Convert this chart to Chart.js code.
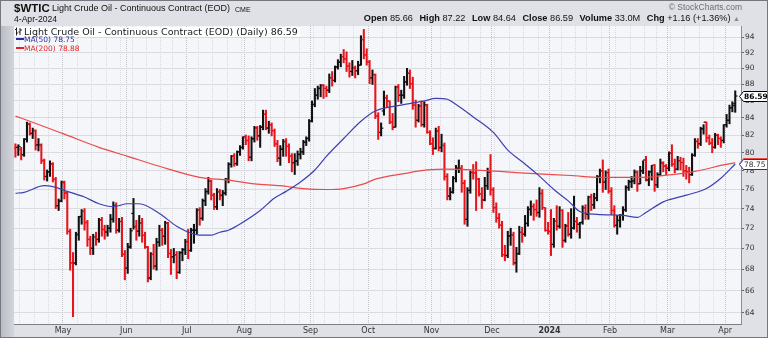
<!DOCTYPE html>
<html>
<head>
<meta charset="utf-8">
<title>$WTIC</title>
<script src="https://cdn.jsdelivr.net/npm/chart.js@4.4.1/dist/chart.umd.min.js"></script>
<style>
  html, body { margin: 0; padding: 0; }
  body {
    width: 768px; height: 338px; position: relative; overflow: hidden;
    background: #dfe1e6;
    font-family: "Liberation Sans", Arial, sans-serif;
    color: #111;
  }
  #leftStrip { position: absolute; left: 1px; top: 26px; width: 13px; bottom: 1px; background: linear-gradient(to right, #b9bcc4, #d3d6dc); }
  #frame { position: absolute; left: 0; top: 0; width: 768px; height: 338px; border: 1px solid #74777f; box-sizing: border-box; pointer-events: none; z-index: 5; }
  #chart { position: absolute; left: 0; top: 0; }
  .txt { position: absolute; white-space: nowrap; line-height: 1; }
  #sym { left: 14px; top: 3px; font-size: 11.5px; font-weight: bold; }
  #name { left: 52px; top: 4px; font-size: 9px; }
  #exch { left: 235px; top: 5.5px; font-size: 7px; }
  #date { left: 14px; top: 15px; font-size: 8.6px; }
  #copy { right: 26px; top: 3px; font-size: 8.5px; color: #6b6e75; }
  #quote { right: 28px; top: 14px; font-size: 9.2px; }
  #quote b { margin-left: 4px; }
  #quote .up { color: #888; font-size: 7px; }
  .lg { position: absolute; white-space: nowrap; line-height: 1; font-family: "DejaVu Sans", sans-serif; }
  #lgMain { left: 15px; top: 27px; font-size: 9.5px; background: rgba(255,255,255,0.85); padding-right: 2px; color: #222; }
  #lgMain svg { vertical-align: -1px; margin-right: 2px; }
  #lg50 { left: 16px; top: 36px; font-size: 7.5px; color: #2b2f9c; }
  #lg200 { left: 16px; top: 45px; font-size: 7.5px; color: #e02424; }
  .dash { display: inline-block; width: 8px; height: 2px; vertical-align: 2px; }
</style>
</head>
<body>
<div id="leftStrip"></div>
<canvas id="chart" width="768" height="338"></canvas>

<div class="txt" id="sym">$WTIC</div>
<div class="txt" id="name">Light Crude Oil - Continuous Contract (EOD)</div>
<div class="txt" id="exch">CME</div>
<div class="txt" id="date">4-Apr-2024</div>
<div class="txt" id="copy">© StockCharts.com</div>
<div class="txt" id="quote"></div>

<div class="lg" id="lgMain"><svg width="7" height="9" viewBox="0 0 7 9"><path d="M1.5 0.5V8.5M0 2.5H1.5M1.5 6H3M5 1V8M3.5 5H5M5 3H7" stroke="#222" stroke-width="1" fill="none"/></svg>Light Crude Oil - Continuous Contract (EOD) (Daily) <span id="lgLast"></span></div>
<div class="lg" id="lg50"><span class="dash" style="background:#2b2f9c"></span>MA(50) <span id="lg50v"></span></div>
<div class="lg" id="lg200"><span class="dash" style="background:#e02424"></span>MA(200) <span id="lg200v"></span></div>
<div id="frame"></div>

<script>
// daily bars, 5-Apr-2023 .. 4-Apr-2024 (index = trading day)
const opens = [
  80.5, 80.6, 80.4, 79.8, 81.5, 83.3, 82.2, 82.5, 80.9, 80.8, 79.1, 77.4, 77.9, 78.7, 77.1, 74.3, 74.8,
  76.7, 75.6, 71.7, 68.6, 68.6, 71.4, 73.2, 73.7, 72.6, 70.9, 70.0, 71.1, 70.9, 72.8, 71.9, 71.6, 72.0, 72.9, 74.3, 71.8, 72.7, 69.4,
  68.1, 70.2, 73.5, 72.2, 71.7, 72.5, 71.3, 70.1, 67.2, 69.4, 68.3, 70.6, 71.8, 71.2, 72.5, 69.5, 69.2, 69.4, 67.7, 69.6, 69.9,
  70.6, 69.8, 71.8, 71.8, 73.9, 73.0, 74.8, 75.8, 76.9, 75.4, 74.2, 75.8, 75.4, 75.6, 77.1, 78.7, 79.6, 78.8, 80.1, 80.6,
  81.8, 81.4, 79.5, 81.6, 82.8, 81.9, 82.9, 84.4, 82.8, 83.2, 82.5, 81.0, 79.4, 80.4, 81.3, 80.7, 79.6, 78.9, 79.1, 79.8, 80.1, 81.2, 81.6,
  83.6, 85.6, 86.7, 87.5, 87.9, 87.5, 87.3, 88.8, 88.5, 90.2, 90.8, 91.5, 91.2, 90.3, 89.6, 90.0, 89.7, 90.4, 93.7, 91.7,
  90.8, 88.8, 89.2, 84.2, 82.3, 84.8, 86.4, 86.0, 83.5, 82.9, 87.7, 86.7, 86.7, 88.3, 89.4, 88.1, 85.5, 83.7, 85.4, 83.2, 85.5, 82.3,
  81.0, 80.5, 82.5, 80.6, 80.8, 77.4, 75.3, 75.7, 77.2, 78.3, 78.3, 76.7, 72.9, 75.9, 77.8, 77.8, 77.1, 75.5, 74.9, 76.4, 77.9,
  76.0, 74.1, 73.0, 72.3, 69.4, 69.3, 71.2, 71.3, 68.6, 69.5, 71.6, 71.4, 72.5, 73.9, 74.2, 73.9, 73.6, 75.6, 74.1, 71.8,
  71.7, 70.4, 72.7, 72.2, 73.8, 70.8, 72.2, 71.4, 72.0, 72.7, 72.4, 72.6, 74.1, 73.4, 75.2, 74.4, 75.1, 77.4, 78.0, 76.8, 77.8,
  75.8, 73.8, 72.3, 72.8, 73.3, 73.9, 76.2, 76.8, 76.9, 77.9, 76.6, 78.0, 79.2, 77.0, 77.9, 78.6, 76.5, 77.6, 78.9, 78.5,
  78.3, 80.0, 78.7, 78.2, 79.1, 78.9, 78.0, 77.9, 77.6, 79.7, 81.3, 81.0, 82.7, 83.5, 81.7, 81.1, 80.6, 82.0, 81.6, 81.4,
  83.2, 83.7, 85.2, 85.66
];
const highs = [
  81.0, 80.9, 80.6, 81.6, 83.5, 83.4, 82.8, 82.6, 81.6, 81.0, 79.3, 78.1, 79.1, 78.9, 77.3, 75.0, 76.9,
  76.9, 75.8, 71.9, 69.6, 71.6, 73.2, 73.9, 74.0, 72.8, 71.2, 71.4, 71.6, 73.0, 73.1, 72.3, 72.3, 73.4, 74.7, 74.6, 73.0, 73.1, 69.8,
  70.5, 72.0, 75.06, 72.8, 73.3, 73.0, 71.6, 70.2, 69.6, 70.4, 71.0, 72.3, 72.0, 72.7, 72.6, 69.9, 70.0, 69.7, 69.7, 70.0, 70.9,
  71.9, 72.0, 72.4, 74.0, 74.1, 75.0, 76.1, 77.3, 77.0, 75.6, 76.1, 76.0, 75.9, 77.2, 78.9, 79.7, 79.9, 80.2, 80.8, 81.8,
  82.0, 81.9, 81.8, 83.0, 83.0, 83.1, 84.9, 84.9, 83.6, 83.4, 82.7, 81.4, 80.8, 81.5, 81.6, 81.0, 79.9, 79.9, 80.2, 80.5, 81.4, 81.8, 83.8,
  86.0, 87.5, 87.8, 88.0, 88.0, 87.8, 89.3, 89.6, 90.3, 91.1, 91.8, 92.4, 92.1, 90.7, 91.0, 90.3, 90.9, 94.2, 95.03, 92.5,
  91.0, 89.8, 89.3, 84.6, 83.4, 87.2, 86.7, 86.0, 84.5, 87.8, 88.0, 87.3, 89.0, 90.0, 89.8, 88.9, 86.1, 85.6, 86.0, 85.9, 85.6, 82.5,
  81.7, 82.8, 83.0, 82.1, 81.1, 77.7, 76.2, 77.4, 78.6, 79.2, 78.6, 77.0, 76.2, 78.0, 78.7, 79.0, 77.2, 76.2, 77.3, 78.3, 79.8,
  76.2, 74.6, 73.5, 72.7, 70.3, 71.7, 72.0, 71.6, 70.1, 72.2, 72.1, 73.3, 74.2, 74.8, 74.5, 74.9, 76.2, 76.0, 74.1, 72.6,
  73.9, 73.0, 74.3, 74.2, 73.9, 72.4, 73.6, 74.0, 75.3, 73.1, 72.6, 74.3, 74.4, 75.3, 75.5, 75.6, 77.5, 78.2, 79.2, 78.0, 78.2,
  76.2, 74.3, 73.3, 73.4, 74.2, 76.4, 77.0, 77.4, 78.1, 78.0, 78.5, 79.1, 79.6, 78.0, 78.6, 78.7, 77.8, 79.3, 79.0, 78.7,
  80.1, 80.9, 79.3, 79.6, 79.5, 79.4, 78.6, 78.4, 79.9, 81.6, 81.6, 82.9, 83.2, 83.5, 82.0, 81.6, 82.2, 82.1, 81.8, 83.2,
  84.4, 85.5, 85.9, 87.22
];
const lows = [
  79.5, 79.7, 79.2, 79.6, 81.2, 82.0, 81.6, 80.3, 80.2, 78.8, 77.0, 76.9, 77.4, 76.8, 74.0, 73.8, 74.7,
  75.0, 71.4, 67.9, 63.64, 68.4, 70.8, 72.4, 71.8, 70.2, 69.4, 69.4, 70.3, 70.6, 71.2, 70.9, 71.2, 71.6, 72.6, 71.5, 71.6, 69.2, 67.0,
  67.6, 70.0, 71.9, 70.8, 71.2, 70.6, 70.0, 66.8, 67.0, 68.0, 67.9, 70.2, 70.3, 70.4, 69.1, 67.5, 68.6, 67.1, 67.6, 68.8, 69.4,
  69.0, 69.7, 70.5, 71.4, 72.3, 72.8, 74.3, 75.5, 74.9, 73.9, 73.9, 74.9, 74.3, 75.4, 76.7, 78.4, 78.5, 78.6, 79.7, 80.4,
  80.9, 79.1, 79.1, 81.2, 81.4, 80.6, 82.6, 82.6, 82.2, 81.9, 80.7, 79.0, 78.6, 79.6, 79.6, 78.9, 77.9, 77.6, 78.6, 79.3, 79.8, 80.8, 81.3,
  83.5, 85.3, 86.2, 86.5, 86.3, 86.5, 87.0, 87.8, 88.3, 89.9, 90.2, 90.7, 89.6, 88.9, 89.1, 88.8, 89.2, 90.4, 91.2, 90.4,
  88.1, 88.0, 83.9, 81.5, 81.9, 84.3, 85.2, 83.3, 82.6, 82.9, 85.9, 85.7, 86.3, 87.9, 87.5, 85.0, 82.9, 83.5, 83.0, 82.9, 82.2, 80.9,
  79.8, 80.4, 80.2, 80.1, 77.0, 74.9, 74.9, 75.6, 76.8, 77.8, 75.7, 72.4, 72.2, 75.6, 77.1, 73.8, 75.3, 74.0, 74.8, 76.0, 75.4,
  73.6, 72.6, 72.0, 69.2, 68.8, 69.1, 70.3, 68.4, 67.71, 69.4, 70.6, 71.2, 72.2, 73.3, 72.8, 73.2, 73.1, 73.9, 71.7, 71.4,
  69.3, 70.1, 71.8, 72.0, 70.1, 70.6, 71.2, 71.0, 71.9, 71.6, 71.0, 72.4, 72.9, 72.9, 73.8, 74.0, 74.8, 76.7, 75.7, 76.0, 75.6,
  73.4, 72.1, 71.4, 72.1, 72.8, 73.7, 75.9, 76.2, 76.6, 75.8, 76.6, 77.7, 76.9, 76.4, 77.0, 75.8, 76.2, 77.5, 77.9, 77.6,
  78.0, 78.5, 77.8, 78.1, 78.1, 77.4, 77.1, 76.7, 77.5, 79.6, 80.5, 80.8, 82.1, 81.2, 80.9, 80.0, 80.5, 80.9, 80.6, 81.1,
  82.9, 83.3, 84.7, 84.64
];
const closes = [
  80.61, 80.70, 79.74, 81.53, 83.26, 82.16, 82.52, 80.83, 80.86, 79.16, 77.37, 77.87, 78.76, 77.07, 74.30, 74.76, 76.78,
  75.66, 71.66, 68.60, 68.56, 71.34, 73.16, 73.71, 72.56, 70.87, 70.04, 71.11, 70.86, 72.83, 71.86, 71.69, 71.99, 72.91, 74.34, 71.83, 72.67, 69.46, 68.09,
  70.10, 71.74, 72.15, 71.74, 72.53, 71.29, 70.17, 67.12, 69.42, 68.27, 70.62, 71.78, 71.19, 72.53, 69.51, 69.16, 69.37, 67.70, 69.56, 69.86, 70.64,
  69.79, 71.79, 71.80, 73.86, 72.99, 74.83, 75.75, 76.89, 75.42, 74.15, 75.75, 75.35, 75.63, 77.07, 78.74, 79.63, 78.78, 80.09, 80.58, 81.80,
  81.37, 79.49, 81.55, 82.82, 81.94, 82.92, 84.40, 82.82, 83.19, 82.51, 80.99, 79.38, 80.39, 81.25, 80.72, 79.64, 78.89, 79.05, 79.83, 80.10, 81.16, 81.63, 83.63,
  85.55, 86.69, 87.54, 87.87, 87.51, 87.29, 88.84, 88.52, 90.16, 90.77, 91.48, 91.20, 90.28, 89.63, 90.03, 89.68, 90.39, 93.68, 91.71, 90.79,
  88.82, 89.23, 84.22, 82.31, 82.79, 86.38, 85.97, 83.49, 82.91, 87.69, 86.66, 86.66, 88.32, 89.37, 88.08, 85.49, 83.74, 85.39, 83.21, 85.54, 82.31, 81.02,
  80.44, 82.46, 80.51, 80.82, 77.37, 75.33, 75.74, 77.17, 78.26, 78.26, 76.66, 72.90, 75.89, 77.83, 77.77, 77.10, 75.54, 74.86, 76.41, 77.86, 75.96,
  74.07, 73.04, 72.32, 69.38, 69.34, 71.23, 71.32, 68.61, 69.47, 71.58, 71.43, 72.47, 73.94, 74.22, 73.89, 73.56, 75.57, 74.11, 71.77, 71.65,
  70.38, 72.70, 72.19, 73.81, 70.77, 72.24, 71.37, 72.02, 72.68, 72.40, 72.56, 74.08, 73.41, 75.19, 74.37, 75.09, 77.36, 78.01, 76.78, 77.82, 75.85,
  73.82, 72.28, 72.78, 73.31, 73.86, 76.22, 76.84, 76.92, 77.87, 76.64, 78.03, 79.19, 77.04, 77.91, 78.61, 76.49, 77.58, 78.87, 78.54, 78.26,
  79.97, 78.74, 78.15, 79.13, 78.93, 78.01, 77.93, 77.56, 79.72, 81.26, 81.04, 82.72, 83.47, 81.68, 81.07, 80.63, 81.95, 81.62, 81.35, 83.17,
  83.71, 85.15, 85.43, 86.59
];
const prevClose = 80.71;     // close of the day before the first bar
const lastVolume = '33.0M';

// moving averages, sampled by trading-day index
const ma50Days = [0, 3, 10, 13, 18, 24, 29, 34, 39, 43, 50, 56, 61, 64, 68, 71, 74, 79, 85, 90, 94, 99, 104, 108, 114, 120, 125, 134, 142, 146, 150, 152, 159, 166, 171, 176, 181, 187, 192, 196, 202, 211, 216, 219, 225, 233, 240, 245, 250];
const ma50Values = [75.6, 75.7, 76.4, 76.3, 75.8, 75.2, 74.5, 74.2, 74.5, 74.5, 73.5, 72.2, 71.5, 71.3, 71.3, 71.6, 71.8, 72.6, 73.8, 75.1, 75.8, 76.8, 78.1, 79.6, 81.6, 83.6, 84.8, 85.5, 86.0, 86.3, 86.2, 85.8, 84.1, 82.3, 80.3, 79.0, 77.7, 76.0, 74.8, 73.7, 73.4, 73.3, 73.1, 73.6, 74.7, 75.4, 76.1, 77.2, 78.75];
const ma200Days = [0, 5, 17, 29, 39, 50, 64, 74, 83, 92, 100, 108, 114, 121, 125, 135, 143, 150, 165, 180, 193, 203, 210, 218, 228, 235, 240, 245, 250];
const ma200Values = [84.2, 83.6, 82.1, 80.6, 79.6, 78.5, 77.3, 77.0, 76.6, 76.4, 76.1, 76.0, 76.1, 76.6, 77.1, 77.7, 78.1, 78.2, 78.0, 77.7, 77.5, 77.3, 77.3, 77.3, 77.6, 77.9, 78.2, 78.6, 78.88];

// axis labels
const priceTicks = [64, 66, 68, 70, 72, 74, 76, 78, 80, 82, 84, 86, 88, 90, 92, 94];
const monthStarts = [17, 39, 60, 80, 103, 123, 145, 166, 186, 207, 227, 247];
const monthLabels = ['May', 'Jun', 'Jul', 'Aug', 'Sep', 'Oct', 'Nov', 'Dec', '2024', 'Feb', 'Mar', 'Apr'];
const weekStarts = [2, 7, 12, 17, 22, 27, 32, 37, 41, 46, 51, 55, 60, 64, 69, 74, 79, 84, 89, 94, 99, 104, 108, 113, 118, 123, 128, 133, 138, 143, 148, 153, 158, 162, 167, 172, 177, 182, 186, 190, 195, 199, 204, 209, 214, 219, 223, 228, 233, 238, 243, 247];

const upColor = '#111111';
const downColor = '#e8141b';
const ma50Color = '#3d41ad';
const ma200Color = '#ec4a4a';

const last = closes.length - 1;
const barColors = closes.map((c, i) => c >= (i ? closes[i - 1] : prevClose) ? upColor : downColor);

// header and legend text
const chg = closes[last] - closes[last - 1];
document.getElementById('quote').innerHTML =
  '<b>Open</b> ' + opens[last].toFixed(2) +
  ' <b>High</b> ' + highs[last].toFixed(2) +
  ' <b>Low</b> ' + lows[last].toFixed(2) +
  ' <b>Close</b> ' + closes[last].toFixed(2) +
  ' <b>Volume</b> ' + lastVolume +
  ' <b>Chg</b> ' + (chg >= 0 ? '+' : '') + chg.toFixed(2) +
  ' (' + (chg >= 0 ? '+' : '') + (chg / closes[last - 1] * 100).toFixed(2) + '%) <span class="up">▲</span>';
document.getElementById('lgLast').textContent = closes[last].toFixed(2);
document.getElementById('lg50v').textContent = ma50Values[ma50Values.length - 1].toFixed(2);
document.getElementById('lg200v').textContent = ma200Values[ma200Values.length - 1].toFixed(2);

const gridDays = Array.from(new Set(weekStarts.concat(monthStarts))).sort((a, b) => a - b);

// plot background
const plotBg = {
  id: 'plotBg',
  beforeDraw(chart) {
    const { ctx, chartArea: a } = chart;
    ctx.save();
    ctx.fillStyle = '#f5f6fa';
    ctx.fillRect(a.left, a.top, a.right - a.left, a.bottom - a.top);
    ctx.restore();
  }
};

// value tags on the price axis
const priceTags = {
  id: 'priceTags',
  afterDraw(chart) {
    const { ctx, chartArea: a, scales: { y } } = chart;
    const tag = (value, stroke, textColor, bold) => {
      const yc = Math.round(y.getPixelForValue(value)) + 0.5;
      const x0 = a.right - 1.5;
      const x1 = chart.width - 0.5;
      ctx.save();
      ctx.beginPath();
      ctx.moveTo(x0, yc);
      ctx.lineTo(x0 + 4, yc - 5);
      ctx.lineTo(x1, yc - 5);
      ctx.lineTo(x1, yc + 5);
      ctx.lineTo(x0 + 4, yc + 5);
      ctx.closePath();
      ctx.fillStyle = '#ffffff';
      ctx.fill();
      ctx.lineWidth = 1;
      ctx.strokeStyle = stroke;
      ctx.stroke();
      ctx.fillStyle = textColor;
      ctx.font = (bold ? 'bold ' : '') + '7.5px "DejaVu Sans"';
      ctx.textBaseline = 'middle';
      ctx.fillText(value.toFixed(2), x0 + 4.5, yc + 0.5);
      ctx.restore();
    };
    tag(ma200Values[ma200Values.length - 1], ma200Color, '#333', false);
    tag(ma50Values[ma50Values.length - 1], '#2b2f9c', '#333', false);
    tag(closes[last], '#000', '#000', true);
  }
};

Chart.defaults.font.family = '"DejaVu Sans", sans-serif';

new Chart(document.getElementById('chart'), {
  data: {
    datasets: [
      {
        type: 'line',
        data: ma200Days.map((d, k) => ({ x: d, y: ma200Values[k] })),
        borderColor: ma200Color,
        borderWidth: 1.2,
        pointRadius: 0,
        cubicInterpolationMode: 'monotone',
        order: 1
      },
      {
        type: 'line',
        data: ma50Days.map((d, k) => ({ x: d, y: ma50Values[k] })),
        borderColor: ma50Color,
        borderWidth: 1.2,
        pointRadius: 0,
        cubicInterpolationMode: 'monotone',
        order: 0
      },
      {
        type: 'bar',
        data: highs.map((h, i) => ({ x: i, y: [lows[i], h] })),
        backgroundColor: barColors,
        barThickness: 1.4,
        order: 4
      },
      {
        type: 'scatter',
        data: opens.map((o, i) => ({ x: i - 0.4, y: o })),
        pointStyle: 'line',
        pointRadius: 1.1,
        pointBorderWidth: 1.2,
        pointBorderColor: barColors,
        order: 3
      },
      {
        type: 'scatter',
        data: closes.map((c, i) => ({ x: i + 0.4, y: c })),
        pointStyle: 'line',
        pointRadius: 1.1,
        pointBorderWidth: 1.2,
        pointBorderColor: barColors,
        order: 3
      }
    ]
  },
  options: {
    responsive: false,
    animation: false,
    devicePixelRatio: 1,
    events: [],
    layout: { padding: { left: 14, top: 26, right: 0, bottom: 0 } },
    plugins: { legend: { display: false }, tooltip: { enabled: false } },
    scales: {
      x: {
        type: 'linear',
        offset: false,
        bounds: 'data',
        min: -0.5,
        max: 252,
        afterBuildTicks: s => { s.ticks = gridDays.map(d => ({ value: d - 0.5 })); },
        afterFit: s => { s.height = 14; },
        ticks: {
          autoSkip: false,
          maxRotation: 0,
          padding: 2,
          color: '#333',
          callback: v => {
            const k = monthStarts.indexOf(v + 0.5);
            return k >= 0 ? monthLabels[k] : '';
          },
          font: ctx => ({
            size: 8,
            weight: ctx.tick && monthLabels[monthStarts.indexOf(ctx.tick.value + 0.5)] === '2024' ? 'bold' : 'normal'
          })
        },
        grid: {
          offset: false,
          drawTicks: false,
          color: ctx => ctx.tick && monthStarts.includes(ctx.tick.value + 0.5) ? '#bfc2c9' : '#d9dbe1'
        },
        border: { color: '#7b7e85', dash: [1, 1] }
      },
      y: {
        type: 'logarithmic',
        position: 'right',
        min: 62.99,
        max: 95.48,
        afterBuildTicks: s => { s.ticks = priceTicks.map(v => ({ value: v })); },
        afterFit: s => { s.width = 27; },
        ticks: {
          autoSkip: false,
          padding: 1,
          color: '#333',
          font: { size: 7.5 },
          callback: v => String(v)
        },
        grid: { color: '#d9dbe1', tickLength: 3, tickColor: '#666' },
        border: { color: '#8a8d94' }
      }
    }
  },
  plugins: [plotBg, priceTags]
});
</script>
</body>
</html>
